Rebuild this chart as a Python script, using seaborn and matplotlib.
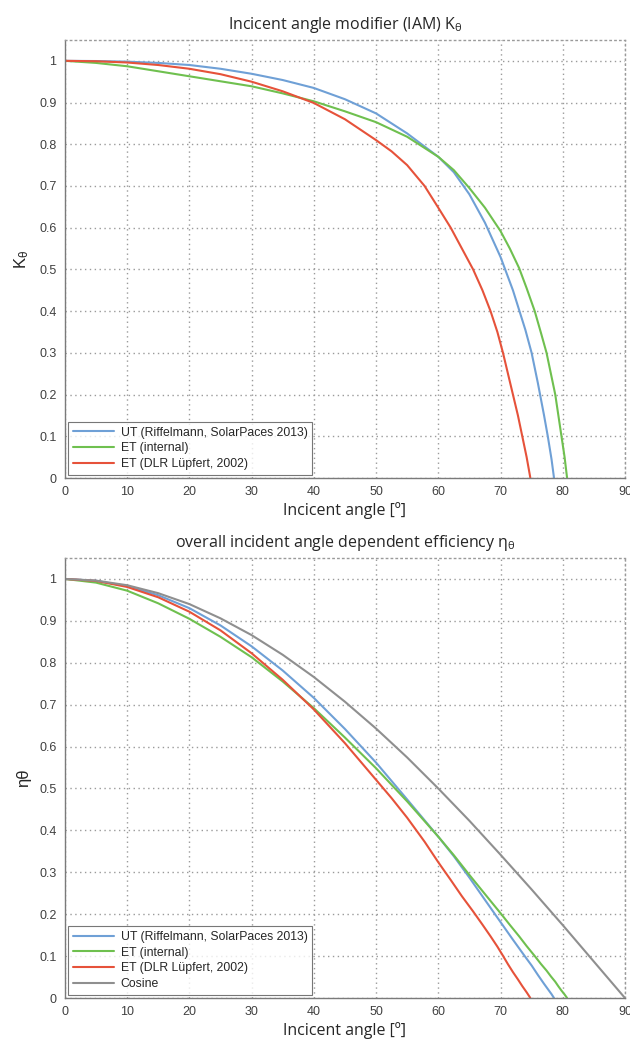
import numpy as np
import pandas as pd
import seaborn as sns
import matplotlib.pyplot as plt

# incident angle [deg] per curve
x_ut = [0, 5, 10, 15, 20, 25, 30, 35, 40, 45, 50, 55, 60, 62.5, 65, 67.5, 70, 72, 74, 75, 76, 77, 77.6, 78.2, 78.6]
x_et = [0, 5, 10, 15, 20, 25, 30, 35, 40, 45, 50, 55, 60, 62.5, 65, 67.5, 70, 71.5, 73, 74.2, 75.5, 76.5, 77.4, 78.1, 78.8, 79.3, 79.8, 80.3, 80.7]
x_dlr = [0, 5, 10, 15, 20, 25, 30, 35, 40, 45, 50, 52.5, 55, 57.8, 60, 62.0, 63.8, 65.6, 67.1, 68.4, 69.5, 70.4, 71.2, 72.0, 72.8, 73.5, 74.2, 74.8]
x_cos = [0, 5, 10, 15, 20, 25, 30, 35, 40, 45, 50, 55, 60, 65, 70, 75, 80, 85, 90]

# IAM K_theta
k_ut = [1.000, 0.9995, 0.998, 0.995, 0.990, 0.981, 0.969, 0.954, 0.935, 0.908, 0.874, 0.826, 0.770, 0.733, 0.680,
        0.612, 0.530, 0.450, 0.355, 0.300, 0.228, 0.150, 0.100, 0.045, 0.0]
k_et = [1.000, 0.995, 0.987, 0.975, 0.963, 0.951, 0.939, 0.922, 0.903, 0.879, 0.853, 0.818, 0.770, 0.738, 0.695,
        0.648, 0.592, 0.550, 0.503, 0.455, 0.400, 0.348, 0.300, 0.250, 0.200, 0.150, 0.100, 0.050, 0.0]
k_dlr = [1.000, 0.999, 0.996, 0.990, 0.981, 0.968, 0.950, 0.927, 0.899, 0.860, 0.810, 0.783, 0.750, 0.700, 0.648,
         0.600, 0.550, 0.500, 0.450, 0.400, 0.350, 0.300, 0.250, 0.200, 0.150, 0.100, 0.050, 0.0]

# overall efficiency eta_theta
eta_ut = [1.000, 0.9957, 0.9828, 0.9611, 0.9303, 0.8891, 0.8392, 0.7815, 0.7162, 0.6420, 0.5618, 0.4738, 0.385,
          0.3384, 0.2874, 0.2342, 0.1813, 0.1391, 0.0978, 0.0776, 0.0552, 0.0338, 0.0215, 0.0092, 0.0]
eta_et = [1.000, 0.9912, 0.9720, 0.9418, 0.9049, 0.8619, 0.8132, 0.7553, 0.6917, 0.6215, 0.5483, 0.4692, 0.385,
          0.3407, 0.2937, 0.2480, 0.2025, 0.1745, 0.1471, 0.1239, 0.1002, 0.0812, 0.0654, 0.0516, 0.0388, 0.0279,
          0.0177, 0.0084, 0.0]
eta_dlr = [1.000, 0.9952, 0.9809, 0.9562, 0.9218, 0.8773, 0.8227, 0.7594, 0.6886, 0.6081, 0.5207, 0.4769, 0.4302,
           0.3730, 0.324, 0.2817, 0.2428, 0.2066, 0.1751, 0.1472, 0.1226, 0.1007, 0.0806, 0.0618, 0.0444, 0.0284,
           0.0136, 0.0]
eta_cos = [1.0, 0.996, 0.985, 0.966, 0.940, 0.906, 0.866, 0.819, 0.766, 0.707, 0.643, 0.574, 0.5, 0.423, 0.342,
           0.259, 0.174, 0.087, 0.0]

labels = ['UT (Riffelmann, SolarPaces 2013)', 'ET (internal)', 'ET (DLR Lüpfert, 2002)', 'Cosine']
colors = ['#6fa0d6', '#6fc04f', '#e6523a', '#8f8f8f']
x_ticks = [0, 10, 20, 30, 40, 50, 60, 70, 80, 90]
y_ticks = [0, 0.1, 0.2, 0.3, 0.4, 0.5, 0.6, 0.7, 0.8, 0.9, 1]
y_ticklabels = ['0', '0.1', '0.2', '0.3', '0.4', '0.5', '0.6', '0.7', '0.8', '0.9', '1']

sns.set_style('white')
plt.rcParams['font.family'] = ['Liberation Sans', 'DejaVu Sans']
plt.rcParams['mathtext.default'] = 'regular'

fig, axes = plt.subplots(2, 1, figsize=(6.3, 10.41), dpi=100)
axes[0].set_position([0.103, 0.5408, 0.889, 0.4208])
axes[1].set_position([0.103, 0.0413, 0.889, 0.4227])

top_series = [(x_ut, k_ut), (x_et, k_et), (x_dlr, k_dlr)]
bot_series = [(x_ut, eta_ut), (x_et, eta_et), (x_dlr, eta_dlr), (x_cos, eta_cos)]

for ax, series in [(axes[0], top_series), (axes[1], bot_series)]:
    for i, (xs, ys) in enumerate(series):
        sns.lineplot(x=xs, y=ys, ax=ax, color=colors[i], label=labels[i], linewidth=1.5, sort=False)
    ax.set_xlim(0, 90)
    ax.set_ylim(0, 1.05)
    ax.set_xticks(x_ticks)
    ax.set_yticks(y_ticks)
    ax.set_yticklabels(y_ticklabels)
    ax.grid(True, linestyle=(0, (1, 2.5)), color='#9a9a9a', linewidth=1.0)
    ax.tick_params(direction='in', length=3, labelsize=9, colors='#404040', pad=6)
    for side in ['left', 'bottom']:
        ax.spines[side].set_color('#7a7a7a')
        ax.spines[side].set_linewidth(1.0)
    for side in ['top', 'right']:
        ax.spines[side].set_color('#9a9a9a')
        ax.spines[side].set_linestyle((0, (1, 2.5)))
        ax.spines[side].set_linewidth(1.0)
    ax.set_xlabel('Incicent angle [º]', family='Open Sans', fontsize=11.5, labelpad=3)
    leg = ax.legend(loc='lower left', fontsize=8.8, handlelength=3.4, fancybox=False, frameon=True,
                    borderaxespad=0.25, labelspacing=0.3, borderpad=0.4, handletextpad=0.5)
    leg.get_frame().set_edgecolor('#555555')
    leg.get_frame().set_linewidth(0.8)

axes[0].set_title(r'Incicent angle modifier (IAM) K$_θ$', family='Open Sans', fontsize=11.5, pad=8)
axes[1].set_title(r'overall incident angle dependent efficiency η$_θ$', family='Open Sans',
                  fontsize=11.5, pad=8)
axes[0].set_ylabel(r'K$_θ$', fontsize=12, labelpad=6)
axes[1].set_ylabel('ηθ', fontsize=12, labelpad=6)

fig.savefig('out.png', dpi=100)
